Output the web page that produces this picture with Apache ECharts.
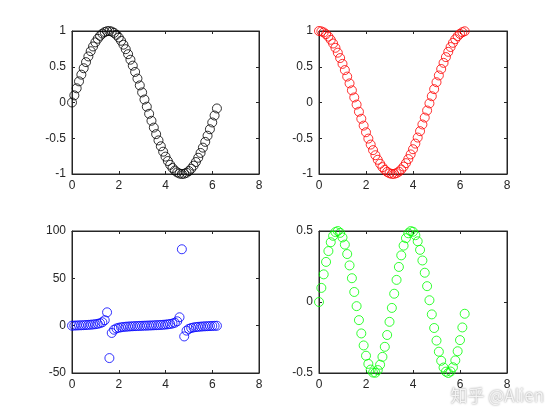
<!DOCTYPE html>
<html>
<head>
<meta charset="utf-8">
<script src="https://cdn.jsdelivr.net/npm/echarts@6/dist/echarts.min.js"></script>
<style>
html, body { margin: 0; padding: 0; background: #fff; }
#chart { width: 560px; height: 420px; }
</style>
</head>
<body>
<div id="chart"></div>
<script>
// x = 0 : 0.1 : 6.2
const xs = [0,0.1,0.2,0.3,0.4,0.5,0.6,0.7,0.8,0.9,1,1.1,1.2,1.3,1.4,1.5,1.6,1.7,1.8,1.9,
    2,2.1,2.2,2.3,2.4,2.5,2.6,2.7,2.8,2.9,3,3.1,3.2,3.3,3.4,3.5,3.6,3.7,3.8,3.9,
    4,4.1,4.2,4.3,4.4,4.5,4.6,4.7,4.8,4.9,5,5.1,5.2,5.3,5.4,5.5,5.6,5.7,5.8,5.9,
    6,6.1,6.2]

const sinVals = [0,0.0998,0.1987,0.2955,0.3894,0.4794,0.5646,0.6442,0.7174,0.7833,
    0.8415,0.8912,0.932,0.9636,0.9854,0.9975,0.9996,0.9917,0.9738,0.9463,
    0.9093,0.8632,0.8085,0.7457,0.6755,0.5985,0.5155,0.4274,0.335,0.2392,
    0.1411,0.0416,-0.0584,-0.1577,-0.2555,-0.3508,-0.4425,-0.5298,-0.6119,-0.6878,
    -0.7568,-0.8183,-0.8716,-0.9162,-0.9516,-0.9775,-0.9937,-0.9999,-0.9962,-0.9825,
    -0.9589,-0.9258,-0.8835,-0.8323,-0.7728,-0.7055,-0.6313,-0.5507,-0.4646,-0.3739,
    -0.2794,-0.1822,-0.0831]

const cosVals = [1,0.995,0.9801,0.9553,0.9211,0.8776,0.8253,0.7648,0.6967,0.6216,
    0.5403,0.4536,0.3624,0.2675,0.17,0.0707,-0.0292,-0.1288,-0.2272,-0.3233,
    -0.4161,-0.5048,-0.5885,-0.6663,-0.7374,-0.8011,-0.8569,-0.9041,-0.9422,-0.971,
    -0.99,-0.9991,-0.9983,-0.9875,-0.9668,-0.9365,-0.8968,-0.8481,-0.791,-0.7259,
    -0.6536,-0.5748,-0.4903,-0.4008,-0.3073,-0.2108,-0.1122,-0.0124,0.0875,0.1865,
    0.2837,0.378,0.4685,0.5544,0.6347,0.7087,0.7756,0.8347,0.8855,0.9275,
    0.9602,0.9833,0.9965]

const tanVals = [0,0.1,0.203,0.309,0.423,0.546,0.684,0.842,1.03,1.26,
    1.557,1.965,2.572,3.602,5.798,14.1,-34.23,-7.697,-4.286,-2.927,
    -2.185,-1.71,-1.374,-1.119,-0.916,-0.747,-0.602,-0.473,-0.356,-0.246,
    -0.143,-0.042,0.058,0.16,0.264,0.375,0.493,0.625,0.774,0.947,
    1.158,1.424,1.778,2.286,3.097,4.637,8.86,80.71,-11.38,-5.267,
    -3.381,-2.449,-1.886,-1.501,-1.218,-0.996,-0.814,-0.66,-0.525,-0.403,
    -0.291,-0.185,-0.083]

const sinCosVals = [0,0.0993,0.1947,0.2823,0.3587,0.4207,0.466,0.4927,0.4998,0.4869,
    0.4546,0.4042,0.3377,0.2578,0.1675,0.0706,-0.0292,-0.1277,-0.2213,-0.3059,
    -0.3784,-0.4358,-0.4758,-0.4969,-0.4981,-0.4795,-0.4417,-0.3864,-0.3156,-0.2323,
    -0.1397,-0.0416,0.0583,0.1557,0.247,0.3285,0.3968,0.4493,0.484,0.4993,
    0.4947,0.4704,0.4274,0.3672,0.2924,0.2061,0.1115,0.0124,-0.0872,-0.1832,
    -0.272,-0.35,-0.4139,-0.4614,-0.4905,-0.5,-0.4896,-0.4597,-0.4114,-0.3468,
    -0.2683,-0.1792,-0.0828]

// one entry per subplot: y range and marker colour
const panels = [
    { vals: sinVals, color: '#000000', ymin: -1, ymax: 1, step: 0.5 },
    { vals: cosVals, color: '#ff0000', ymin: -1, ymax: 1, step: 0.5 },
    { vals: tanVals, color: '#0000ff', ymin: -50, ymax: 100, step: 50 },
    { vals: sinCosVals, color: '#00ff00', ymin: -0.5, ymax: 0.5, step: 0.5 }
]

const boxes = [
    { left: 72, top: 31, width: 187, height: 143 },
    { left: 319, top: 31, width: 188, height: 143 },
    { left: 72, top: 231, width: 187, height: 142 },
    { left: 319, top: 231, width: 188, height: 142 }
]

const axisColor = '#262626'
const labelFont = { color: axisColor, fontSize: 12, fontFamily: 'Liberation Sans, Arial, sans-serif' }

const grid = []
const xAxis = []
const yAxis = []
const series = []

panels.forEach((p, i) => {
    grid.push(Object.assign({ show: true, borderColor: axisColor, borderWidth: 1, backgroundColor: '#fff' }, boxes[i]))
    const tick = { show: true, inside: true, length: 3, lineStyle: { color: axisColor, width: 1 } }
    const line = { show: true, onZero: false, lineStyle: { color: axisColor, width: 1 } }
    ;['bottom', 'top'].forEach(pos => {
        xAxis.push({
            type: 'value', gridIndex: i, position: pos, min: 0, max: 8, interval: 2,
            axisLine: line, axisTick: tick, splitLine: { show: false },
            axisLabel: Object.assign({ show: pos === 'bottom', margin: 6 }, labelFont)
        })
    })
    ;['left', 'right'].forEach(pos => {
        yAxis.push({
            type: 'value', gridIndex: i, position: pos, min: p.ymin, max: p.ymax, interval: p.step,
            axisLine: line, axisTick: tick, splitLine: { show: false },
            axisLabel: Object.assign({ show: pos === 'left', margin: 6 }, labelFont)
        })
    })
    series.push({
        type: 'scatter',
        xAxisIndex: i * 2,
        yAxisIndex: i * 2,
        clip: false,
        symbol: 'circle',
        symbolSize: 9,
        itemStyle: { color: 'rgba(0,0,0,0)', borderColor: p.color, borderWidth: 1 },
        emphasis: { disabled: true },
        data: xs.map((x, k) => [x, p.vals[k]])
    })
})

const chart = echarts.init(document.getElementById('chart'), null, { renderer: 'canvas' })
chart.setOption({
    animation: false,
    backgroundColor: '#fff',
    grid: grid,
    xAxis: xAxis,
    yAxis: yAxis,
    series: series,
    graphic: [{
        type: 'text',
        right: 16,
        top: 387,
        style: {
            text: '知乎 @Alien',
            fill: '#f4f4f4',
            font: '17px "Noto Sans CJK SC", sans-serif',
            textShadowColor: 'rgba(0,0,0,0.5)',
            textShadowBlur: 2
        }
    }]
})
</script>
</body>
</html>
